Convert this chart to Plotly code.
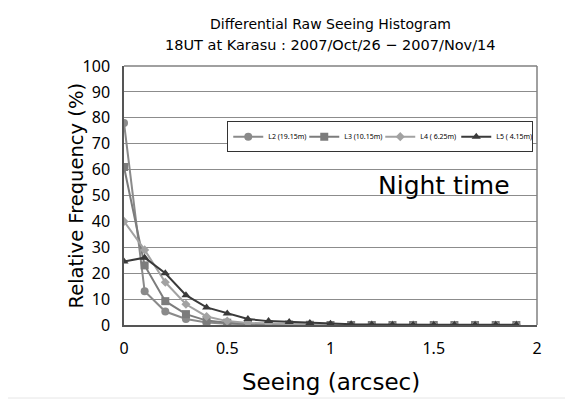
import plotly.graph_objects as go

seeing = [0.0, 0.1, 0.2, 0.3, 0.4, 0.5, 0.6, 0.7, 0.8, 0.9, 1.0, 1.1, 1.2, 1.3, 1.4, 1.5, 1.6, 1.7, 1.8, 1.9]
l2 = [78, 13, 5.2, 2.3, 1.0, 0.5, 0.3, 0.2, 0.1, 0.1, 0, 0, 0, 0, 0, 0, 0, 0, 0, 0]
l3 = [61, 23, 9.2, 4.2, 1.7, 0.9, 0.5, 0.3, 0.2, 0.1, 0, 0, 0, 0, 0, 0, 0, 0, 0, 0]
l4 = [40, 29, 16.5, 8.0, 3.3, 1.5, 0.8, 0.5, 0.3, 0.1, 0.1, 0, 0, 0, 0, 0, 0, 0, 0, 0]
l5 = [24.5, 26, 20, 11.5, 6.8, 4.4, 2.3, 1.5, 1.2, 0.8, 0.5, 0.3, 0.2, 0.1, 0.1, 0.1, 0.1, 0.1, 0.1, 0.1]
names = ["L2 (19.15m)", "L3 (10.15m)", "L4 ( 6.25m)", "L5 ( 4.15m)"]
yticks = [0, 10, 20, 30, 40, 50, 60, 70, 80, 90, 100]
xticks = [0, 0.5, 1, 1.5, 2]
xtick_text = ["0", "0.5", "1", "1.5", "2"]
title1 = "Differential Raw Seeing Histogram"
title2 = "18UT at Karasu : 2007/Oct/26 − 2007/Nov/14"
xtitle = "Seeing (arcsec)"
ytitle = "Relative Frequency (%)"
note = "Night time"

series = [l2, l3, l4, l5]
colors = ["#8a8a8a", "#7c7c7c", "#a2a2a2", "#3a3a3a"]
symbols = ["circle", "square", "diamond", "triangle-up"]
sizes = [8, 8, 7, 8]

font = "DejaVu Sans, sans-serif"
narrow = "Liberation Sans Narrow, Noto Sans, sans-serif"

# page body has an 8px margin; size figure so the plot lands where the reference has it
W, H = 565, 393
L, T = 116, 58
PW, PH = 413, 259

fig = go.Figure()
for s, n, c, sym, sz in zip(series, names, colors, symbols, sizes):
    fig.add_trace(go.Scatter(
        x=seeing, y=s, name=n, mode="lines+markers",
        line=dict(color=c, width=2),
        marker=dict(symbol=sym, size=sz, color=c),
    ))

fig.update_layout(
    width=W, height=H,
    margin=dict(l=L, r=W - L - PW, t=T, b=H - T - PH, autoexpand=False),
    paper_bgcolor="white", plot_bgcolor="white",
    font=dict(family=font, color="black"),
    xaxis=dict(
        range=[0, 2], tickvals=xticks, ticktext=xtick_text,
        showgrid=False, zeroline=False, automargin=False,
        showline=True, linecolor="#555555", linewidth=1.5, mirror=False,
        ticks="", tickfont=dict(size=16, family=narrow), ticklabelstandoff=8,
    ),
    yaxis=dict(
        range=[0, 100], tickvals=yticks, automargin=False,
        showgrid=True, gridcolor="#8c8c8c", gridwidth=1, zeroline=False,
        showline=True, linecolor="#555555", linewidth=1.5,
        ticks="", tickfont=dict(size=16, family=narrow), ticklabelstandoff=9,
    ),
    legend=dict(
        orientation="h", x=0.25, y=0.787, xanchor="left", yanchor="top",
        bordercolor="#333333", borderwidth=1, bgcolor="white",
        font=dict(size=7, family=narrow), itemwidth=30, tracegroupgap=0,
        entrywidth=31, entrywidthmode="pixels",
    ),
    showlegend=True,
)

fig.add_annotation(x=0.5, y=1 + 42 / PH, xref="paper", yref="paper", text=title1,
                   showarrow=False, font=dict(size=14, family=font),
                   xanchor="center", yanchor="middle")
fig.add_annotation(x=0.5, y=1 + 21 / PH, xref="paper", yref="paper", text=title2,
                   showarrow=False, font=dict(size=14.5, family=font),
                   xanchor="center", yanchor="middle")
fig.add_annotation(x=0.5, y=-57 / PH, xref="paper", yref="paper", text=xtitle,
                   showarrow=False, font=dict(size=23, family=font),
                   xanchor="center", yanchor="middle")
fig.add_annotation(x=-48 / PW, y=0.5, xref="paper", yref="paper", text=ytitle,
                   showarrow=False, font=dict(size=19.5, family=font), textangle=-90,
                   xanchor="center", yanchor="middle")

fig.add_annotation(
    x=1.55, y=54, xref="x", yref="y", text=note, showarrow=False,
    font=dict(size=25, family=font), xanchor="center", yanchor="middle",
)

# plot frame top/right
fig.add_shape(type="line", xref="paper", yref="paper", x0=0, x1=1, y0=1, y1=1,
              line=dict(color="#808080", width=1.5))
fig.add_shape(type="line", xref="paper", yref="paper", x0=1, x1=1, y0=0, y1=1,
              line=dict(color="#808080", width=1.5))
# outer chart border
fig.add_shape(type="rect", xref="paper", yref="paper",
              x0=(4 - 124) / PW, x1=(567 - 124) / PW,
              y0=(325 - 398) / PH, y1=(325 - 3) / PH,
              line=dict(color="#e6e6e6", width=1))

fig.write_html("out.html")
